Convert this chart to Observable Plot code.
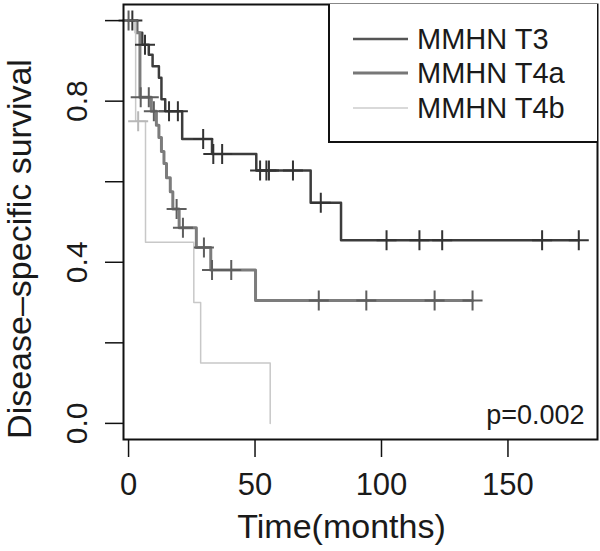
<!DOCTYPE html>
<html>
<head>
<meta charset="utf-8">
<script src="https://cdn.jsdelivr.net/npm/d3@7"></script>
<script src="https://cdn.jsdelivr.net/npm/@observablehq/plot@0.6"></script>
<style>
  html, body { margin: 0; padding: 0; background: #fff; }
  #wrap { position: relative; width: 600px; height: 551px; font-family: "Liberation Sans", Arial, sans-serif; }
  #legend { position: absolute; left: 328px; top: 4px; width: 267px; height: 137px;
            border-left: 2px solid #111; border-bottom: 2px solid #111; background: #fff; }
  #legend svg { position: absolute; left: 0; top: 0; }
</style>
</head>
<body>
<div id="wrap"></div>
<script>
// ---- data ----
const groups = ["MMHN T3", "MMHN T4a", "MMHN T4b"];
const groupColors = ["#3c3c3c", "#7c7c7c", "#c8c8c8"];
const censorColors = ["#333333", "#5e5e5e", "#b8b8b8"];
const lineWidths = [2.5, 3, 1.5];

// step curves (time in months, survival probability)
const t3Times = [0, 3.4, 5.4, 8, 9.5, 12, 13, 14.5, 21.2, 33, 50.5, 72, 84, 178];
const t3Surv  = [1, 0.97, 0.94, 0.915, 0.887, 0.858, 0.805, 0.775, 0.706, 0.669, 0.628, 0.548, 0.455, 0.455];
const t4aTimes = [0, 3, 4.5, 9, 11, 12, 13, 14, 15, 16.5, 17.5, 20, 26.8, 32.5, 50.2, 136];
const t4aSurv  = [1, 0.97, 0.81, 0.775, 0.74, 0.71, 0.675, 0.645, 0.61, 0.575, 0.532, 0.486, 0.437, 0.381, 0.305, 0.305];
const t4bTimes = [0, 2.8, 6.7, 25.8, 28.5, 56];
const t4bSurv  = [1, 0.75, 0.45, 0.30, 0.15, 0];

// censoring marks
const t3CensorTimes = [1.5, 6.5, 16, 19.5, 29.5, 33.5, 37, 52, 54.5, 55.5, 65, 76, 102, 115, 124, 163.5, 178];
const t3CensorSurv  = [1, 0.94, 0.775, 0.775, 0.706, 0.669, 0.669, 0.628, 0.628, 0.628, 0.628, 0.548, 0.455, 0.455, 0.455, 0.455, 0.455];
const t4aCensorTimes = [0, 4.8, 8, 10, 19, 21.5, 29.8, 33, 40.6, 75.2, 94, 121, 136];
const t4aCensorSurv  = [1, 0.81, 0.81, 0.775, 0.532, 0.486, 0.437, 0.381, 0.381, 0.305, 0.305, 0.305, 0.305];
const t4bCensorTimes = [3.8];
const t4bCensorSurv  = [0.75];

const xTicks = [0, 50, 100, 150];
const yTicks = [0, 0.2, 0.4, 0.6, 0.8, 1.0];
const yTickLabels = [0, 0.4, 0.8];
const pValueText = "p=0.002";
const xTitle = "Time(months)";
const yTitle = "Disease\u2013specific survival";

// ---- build tables ----
function steps(name, times, surv) { return times.map((t, i) => ({group: name, time: t, surv: surv[i]})); }
const curves = [
  ...steps(groups[0], t3Times, t3Surv),
  ...steps(groups[1], t4aTimes, t4aSurv),
  ...steps(groups[2], t4bTimes, t4bSurv)
];
const censors = [
  ...steps(groups[0], t3CensorTimes, t3CensorSurv),
  ...steps(groups[1], t4aCensorTimes, t4aCensorSurv),
  ...steps(groups[2], t4bCensorTimes, t4bCensorSurv)
];

// thin "+" symbol
const thinPlus = {
  draw(context, size) {
    const r = Math.sqrt(size / Math.PI);
    context.moveTo(-r, 0); context.lineTo(r, 0);
    context.moveTo(0, -r); context.lineTo(0, r);
  }
};

const font = "Liberation Sans, Arial, sans-serif";

const chart = Plot.plot({
  width: 600,
  height: 551,
  marginLeft: 123,
  marginRight: 3,
  marginTop: 4,
  marginBottom: 112,
  style: {fontFamily: font, color: "#1a1a1a", background: "#fff"},
  x: {domain: [-2, 185.4]},
  y: {domain: [-0.04, 1.04]},
  color: {domain: groups, range: groupColors},
  marks: [
    ...groups.map((g, i) => Plot.line(curves.filter(d => d.group === g), {
      x: "time", y: "surv", curve: "step-after", stroke: groupColors[i], strokeWidth: lineWidths[i]
    })),
    ...groups.map((g, i) => Plot.dot(censors.filter(d => d.group === g), {
      x: "time", y: "surv", symbol: thinPlus, r: 10, stroke: censorColors[i], strokeWidth: 2, fill: "none"
    })),
    Plot.frame({stroke: "#111", strokeWidth: 2}),
    Plot.axisX({ticks: xTicks, tickSize: 18, tickPadding: 15, fontSize: 31, label: null, stroke: "#111", strokeWidth: 1.5, tickFormat: d => String(d)}),
    Plot.axisY({ticks: yTicks, tickSize: 18, tickFormat: () => "", label: null, stroke: "#111", strokeWidth: 1.5}),
    Plot.text(yTickLabels, {y: d => d, frameAnchor: "left", dx: -46, rotate: -90, text: d => d.toFixed(1), fontSize: 30, textAnchor: "middle", lineAnchor: "middle", fill: "#1a1a1a"}),
    Plot.text([xTitle], {frameAnchor: "bottom", dx: -19, dy: 88, textAnchor: "middle", lineAnchor: "middle", fontSize: 34, fill: "#1a1a1a"}),
    Plot.text([yTitle], {frameAnchor: "left", dx: -103, dy: 27, rotate: -90, textAnchor: "middle", lineAnchor: "middle", fontSize: 34, fill: "#1a1a1a"}),
    Plot.text([pValueText], {frameAnchor: "bottom-right", dx: -13, dy: -16, textAnchor: "end", lineAnchor: "bottom", fontSize: 27, fill: "#1a1a1a"})
  ]
});

const wrap = document.getElementById("wrap");
wrap.appendChild(chart);

// legend box (top right, inside the plot frame)
const legend = document.createElement("div");
legend.id = "legend";
const ns = "http://www.w3.org/2000/svg";
const lsvg = document.createElementNS(ns, "svg");
lsvg.setAttribute("width", 267);
lsvg.setAttribute("height", 137);
const rowY = [35, 69, 104];
const legendLineColors = ["#555555", "#777777", "#cccccc"];
groups.forEach((g, i) => {
  const ln = document.createElementNS(ns, "line");
  ln.setAttribute("x1", 23); ln.setAttribute("x2", 78);
  ln.setAttribute("y1", rowY[i]); ln.setAttribute("y2", rowY[i]);
  ln.setAttribute("stroke", legendLineColors[i]);
  ln.setAttribute("stroke-width", lineWidths[i]);
  lsvg.appendChild(ln);
  const tx = document.createElementNS(ns, "text");
  tx.setAttribute("x", 87); tx.setAttribute("y", rowY[i]);
  tx.setAttribute("dy", "0.36em");
  tx.setAttribute("font-size", 29);
  tx.setAttribute("font-family", font);
  tx.setAttribute("fill", "#1a1a1a");
  tx.textContent = g;
  lsvg.appendChild(tx);
});
legend.appendChild(lsvg);
wrap.appendChild(legend);
</script>
</body>
</html>
